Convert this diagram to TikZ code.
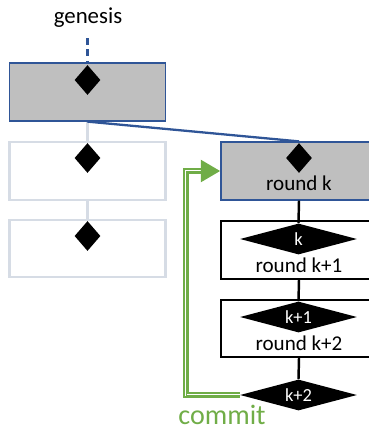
\documentclass[tikz,border=0pt]{standalone}
\usepackage{fontspec}
\setmainfont{Carlito}
\usetikzlibrary{shapes.geometric,arrows.meta}
\definecolor{chainblue}{RGB}{47,85,151}
\definecolor{chaingray}{RGB}{191,191,191}
\definecolor{faintblue}{RGB}{214,220,229}
\definecolor{commitgreen}{RGB}{112,173,71}
\tikzset{
    block/.style={rectangle, minimum width=3.12cm, minimum height=1.15cm, inner sep=0pt, line width=1pt},
    headblock/.style={block, draw=chainblue, fill=chaingray},
    ghostblock/.style={block, draw=faintblue, line width=1.3pt},
    roundblock/.style={block, draw=black},
    token/.style={diamond, fill=black, inner sep=0pt, minimum width=0.52cm, minimum height=0.6cm},
    vote/.style={diamond, fill=black, text=white, inner sep=0pt, aspect=3.5, minimum width=2.34cm, minimum height=0.62cm, font=\fontsize{10.5}{12}\selectfont},
    roundtext/.style={font=\fontsize{12}{14}\selectfont, inner sep=0pt},
    commitline/.style={draw=commitgreen, line width=3pt, postaction={draw=white, line width=1.7pt}, postaction={draw=commitgreen, line width=0.55pt}},
    commitarrow/.style={commitgreen, line width=1.5pt, -{Triangle[length=11pt, width=12.5pt]}}
}
\begin{document}
\begin{tikzpicture}[x=0.02cm, y=-0.02cm]
        \useasboundingbox 
            (0,0) rectangle (369,430);
        \clip 
            (0,0) rectangle (369,430);
        \node[roundtext, font=\fontsize{13}{15}\selectfont] (gen) at (88,18) {genesis};
        \coordinate (gtop) at (87.5,38);
        \node[headblock] (g0) at (87.5,92) {};
        \node[ghostblock] (g1) at (87.5,171) {};
        \node[ghostblock] (g2) at (87.5,248.5) {};
        \node[headblock] (rk) at (299,171) {};
        \node[roundblock] (rk1) at (299,250) {};
        \node[roundblock] (rk2) at (299,328.5) {};
        \draw 
            [chainblue, line width=1.4pt, dash pattern=on 4pt off 2.5pt] (gtop) -- (g0.north);
        \draw 
            [faintblue, line width=1.5pt] (g0.south) -- (g1.north);
        \draw 
            [faintblue, line width=1.5pt] (g1.south) -- (g2.north);
        \draw 
            [chainblue, line width=1.3pt] (g0.south) -- (rk.north);
        \node[token] (d0) at (87.5,80) {};
        \node[token] (d1) at (87.5,158) {};
        \node[token] (d2) at (87.5,236) {};
        \node[token] (dk) at (299,158) {};
        \node[vote] (dk1) at (298.5,239) {k};
        \node[vote] (dk2) at (298.5,317) {k+1};
        \node[vote] (dk3) at (298.5,395) {k+2};
        \node[roundtext] (lk) at (299,183) {round k};
        \node[roundtext] (lk1) at (299,265) {round k+1};
        \node[roundtext] (lk2) at (299,343) {round k+2};
        \draw 
            [line width=1.4pt] (rk.south) -- (dk1.north);
        \draw 
            [line width=1.4pt] (rk1.south) -- (dk2.north);
        \draw 
            [line width=1.4pt] (rk2.south) -- (dk3.north);
        \coordinate (bend) at (186,171);
        \coordinate (tipbase) at (202,171);
        \draw 
            [commitline] (dk3.west) -| (bend) -- (tipbase);
        \draw 
            [commitarrow] (tipbase) -- (rk.west);
        \node[roundtext, text=commitgreen, font=\fontsize{16}{18}\selectfont] (cm) at (222,415) {commit};
    \end{tikzpicture}
\end{document}
